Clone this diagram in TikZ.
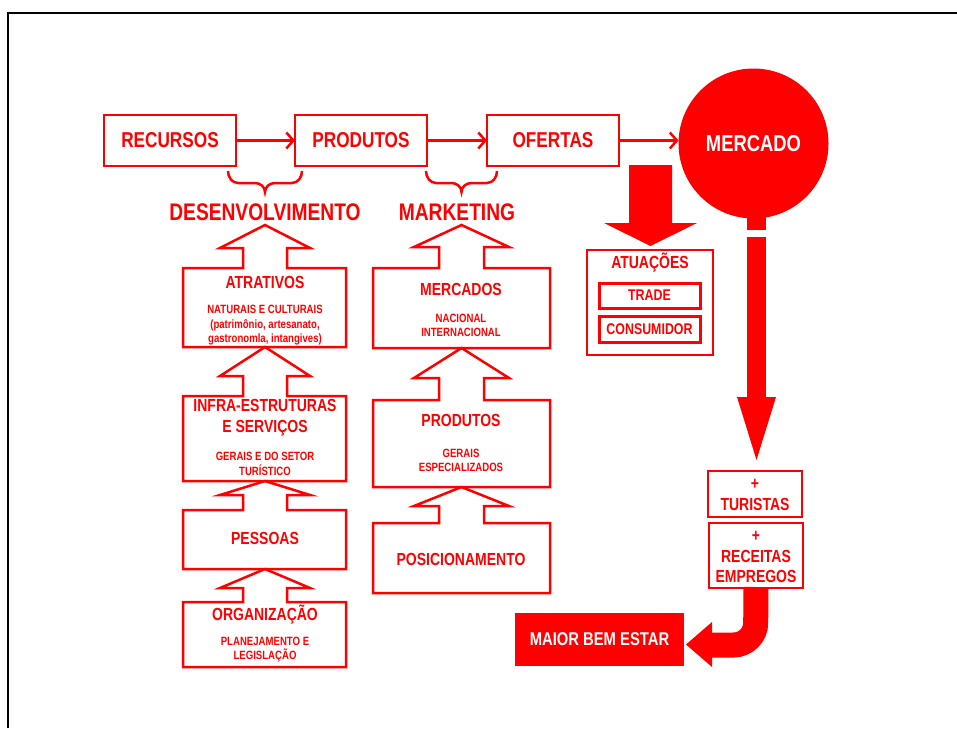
\documentclass[tikz,border=0pt]{standalone}
\usepackage{fontspec}
\setmainfont{Liberation Sans}[FakeStretch=0.8]
\usetikzlibrary{arrows.meta}
\definecolor{rd}{RGB}{255,0,0}
\newcommand\ftop{\fontsize{21.5}{24}\selectfont\bfseries}
\newcommand\fbig{\fontsize{24}{28}\selectfont\bfseries}
\newcommand\ftitle{\fontsize{17.5}{21}\selectfont\bfseries}
\newcommand\fsmallsub{\fontsize{12}{14.5}\selectfont\bfseries}
\newcommand\fmid{\fontsize{15.5}{18}\selectfont\bfseries}
\newcommand\colshape[9]{\draw[harrow] (#1,#4) -- (#1,#3) -- ({#5-#8},#3) -- ({#5-#8},#6) -- ({#5-#9},#6) -- (#5,#7) -- ({#5+#9},#6) -- ({#5+#8},#6) -- ({#5+#8},#3) -- (#2,#3) -- (#2,#4) -- cycle;}
\begin{document}
\begin{tikzpicture}[x=1pt,y=-1pt,
  box/.style={draw=rd, line width=2.5pt, inner sep=0pt, outer sep=0pt, rectangle, text=rd, align=center},
  harrow/.style={draw=rd, line width=2.5pt, line join=miter},
  txt/.style={text=rd, inner sep=0pt, align=center},
  conn/.style={draw=rd, line width=2.5pt, -{Straight Barb[length=7pt,width=16pt]}},
  brc/.style={draw=rd, line width=2.5pt}]
\useasboundingbox (0,0) rectangle (957,728);
\fill[white] (0,0) rectangle (957,728);
\draw[black, line width=2pt] (8,728) -- (8,13) -- (957,13);

% top row
\node[box, minimum width=132pt, minimum height=51pt, font=\ftop] (rec) at (170,140.5) {RECURSOS};
\node[box, minimum width=132pt, minimum height=51pt, font=\ftop] (prod) at (361,140.5) {PRODUTOS};
\node[box, minimum width=132pt, minimum height=51pt, font=\ftop] (ofe) at (553,140.5) {OFERTAS};
\node[circle, fill=rd, minimum size=150pt, inner sep=0pt, outer sep=0pt, text=white, font=\fontsize{23}{26}\selectfont\bfseries] (merc) at (753.5,143.5) {MERCADO};
\draw[conn] (rec) -- (prod);
\draw[conn] (prod) -- (ofe);
\draw[conn] (ofe.east) -- (ofe.east -| merc.west);

% braces
\draw[brc] (228,171) to[out=-90,in=180] (238,183) -- (255,183) to[out=0,in=90] (265,192) to[out=90,in=180] (275,183) -- (292,183) to[out=0,in=-90] (302,171);
\draw[brc] (426,171) to[out=-90,in=180] (436,183) -- (451.5,183) to[out=0,in=90] (461.5,192) to[out=90,in=180] (471.5,183) -- (487,183) to[out=0,in=-90] (497,171);
\node[txt, font=\fbig] (desenv) at (265,212.5) {DESENVOLVIMENTO};
\node[txt, font=\fbig] (mkt) at (457,212.5) {MARKETING};

% left column
\colshape{183}{346}{268}{347}{265}{248}{225}{22}{45}
\colshape{183}{346}{396}{481}{265}{376}{347}{22}{45}
\colshape{183}{346}{510}{569}{265}{495}{481}{22}{45}
\colshape{183}{346}{602}{667}{265}{588}{569}{22}{45}
\node[txt, font=\ftitle] (atr) at (265,282) {ATRATIVOS};
\node[txt, font=\fsmallsub] (atrsub) at (265,325.5) {NATURAIS E CULTURAIS\\(patrimônio, artesanato,\\gastronomla, intangives)};
\node[txt, font=\ftitle] (infra) at (265,418) {INFRA-ESTRUTURAS\\E SERVIÇOS};
\node[txt, font=\fsmallsub] (infrasub) at (265,464) {GERAIS E DO SETOR\\TURÍSTICO};
\node[txt, font=\ftitle] (pess) at (265,538) {PESSOAS};
\node[txt, font=\ftitle] (org) at (265,615) {ORGANIZAÇÃO};
\node[txt, font=\fsmallsub] (orgsub) at (265,649.5) {PLANEJAMENTO E\\LEGISLAÇÃO};

% middle column
\colshape{373}{550}{268}{348}{461.5}{247}{225}{22.5}{47.5}
\colshape{373}{550}{400}{487}{461.5}{378}{348}{22.5}{47.5}
\colshape{373}{550}{523}{593}{461.5}{506}{487}{22.5}{47.5}
\node[txt, font=\ftitle] (mercs) at (461,289) {MERCADOS};
\node[txt, font=\fsmallsub] (mercssub) at (461,325.5) {NACIONAL\\INTERNACIONAL};
\node[txt, font=\ftitle] (prods) at (461,420) {PRODUTOS};
\node[txt, font=\fsmallsub] (prodssub) at (461,460.5) {GERAIS\\ESPECIALIZADOS};
\node[txt, font=\ftitle] (pos) at (461,559) {POSICIONAMENTO};

% atuacoes
\fill[rd] (629,165) -- (672,165) -- (672,223) -- (697,223) -- (650.5,246) -- (604,223) -- (629,223) -- cycle;
\node[box, minimum width=126pt, minimum height=105pt] (atua) at (650,302.5) {};
\node[txt, font=\ftitle] (atuat) at (650,263) {ATUAÇÕES};
\node[box, line width=3pt, minimum width=101pt, minimum height=25pt, font=\fmid] (trade) at (649.5,295.5) {TRADE};
\node[box, line width=3pt, minimum width=101pt, minimum height=26pt, font=\fmid] (cons) at (649.5,329) {CONSUMIDOR};

% mercado down arrow
\fill[rd] (747,212) rectangle (766,230);
\fill[rd] (747,237) rectangle (766,398);
\fill[rd] (737,397) -- (776,397) -- (756.5,460) -- cycle;

% right boxes
\node[box, minimum width=94pt, minimum height=46pt] (tur) at (755,494) {};
\node[txt, font=\ftitle] (turt) at (755,495) {+\\TURISTAS};
\node[box, minimum width=94pt, minimum height=65pt] (rece) at (756,555.5) {};
\node[txt, font=\fontsize{17.5}{20.5}\selectfont\bfseries] (recet) at (756,557) {+\\RECEITAS\\EMPREGOS};

% maior bem estar
\node[rectangle, fill=rd, minimum width=169pt, minimum height=53pt, inner sep=0pt, text=white, font=\fontsize{18.5}{22}\selectfont\bfseries] (mbe) at (599.5,639.5) {MAIOR BEM ESTAR};
\draw[rd, line width=25pt, rounded corners=22pt] (rece.south) ++(0,-1) -- (755.5,645) -- (712,645);
\fill[rd] (712,622) -- (712,667) -- (686,644.5) -- cycle;
\end{tikzpicture}
\end{document}
